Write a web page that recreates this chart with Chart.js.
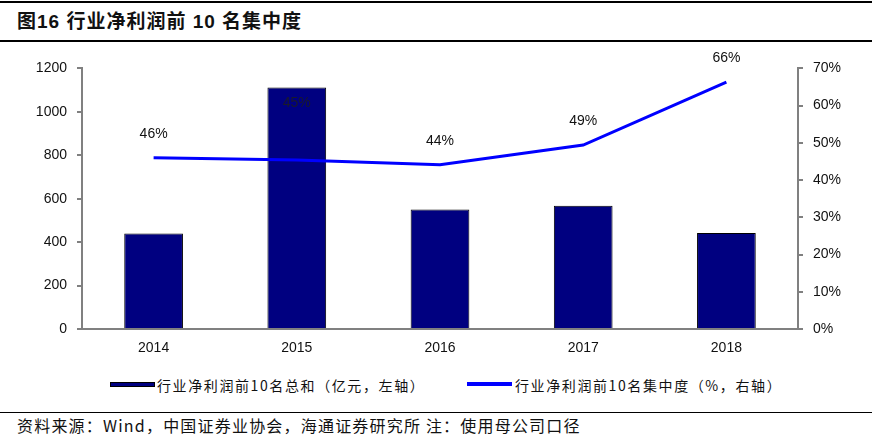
<!DOCTYPE html>
<html lang="zh">
<head>
<meta charset="UTF-8">
<title>图16 行业净利润前10名集中度</title>
<script src="https://cdn.jsdelivr.net/npm/chart.js"></script>
<style>
    body {
        margin: 0;
        width: 872px;
        height: 435px;
        background: #fff;
        position: relative;
        overflow: hidden;
        font-family: 'Liberation Sans', Arial, sans-serif;
    }
    .rule {
        position: absolute;
        left: 0;
        width: 872px;
        height: 2px;
        background: #000;
    }
    .title {
        position: absolute;
        left: 17px;
        top: 9px;
        font-size: 19px;
        line-height: 26px;
        letter-spacing: 1px;
        font-weight: bold;
        font-family: 'Liberation Sans', 'Noto Sans CJK SC', sans-serif;
        color: #111;
    }
    .chart-box {
        position: absolute;
        left: 0;
        top: 50px;
        width: 872px;
        height: 310px;
    }
    .legend-swatch {
        position: absolute;
        width: 45px;
    }
    .legend-text {
        position: absolute;
        top: 375px;
        font-size: 14px;
        line-height: 20px;
        letter-spacing: 1.6px;
        font-family: 'Noto Sans CJK SC', sans-serif;
        color: #111;
        white-space: nowrap;
    }
    .footer {
        position: absolute;
        left: 17px;
        top: 414px;
        font-size: 16px;
        line-height: 22px;
        letter-spacing: 1.2px;
        font-family: 'Noto Sans CJK SC', sans-serif;
        color: #111;
        white-space: nowrap;
    }
</style>
</head>
<body>
    <div class="rule" style="top:1px"></div>
    <div class="title">图16 行业净利润前 10 名集中度</div>
    <div class="rule" style="top:40px"></div>

    <div class="chart-box"><canvas id="c"></canvas></div>

    <div class="legend-swatch" style="left:110px;top:382px;height:5px;background:#000080;border:1px solid #000;box-sizing:border-box;"></div>
    <div class="legend-text" style="left:157px">行业净利润前10名总和（亿元，左轴）</div>
    <div class="legend-swatch" style="left:467px;top:382px;height:4px;background:#0000ff;"></div>
    <div class="legend-text" style="left:515px">行业净利润前10名集中度（%，右轴）</div>

    <div class="rule" style="top:412px;height:1px"></div>
    <div class="footer">资料来源：Wind，中国证券业协会，海通证券研究所 注：使用母公司口径</div>

<script>
    // data
    const years = ['2014', '2015', '2016', '2017', '2018'];
    const profitTop10 = [440, 1112, 550, 568, 442];      // 亿元, left axis
    const concentration = [46, 45.4, 44.1, 49.4, 66.3];  // %, right axis
    const concentrationLabels = ['46%', '45%', '44%', '49%', '66%'];

    // how far above the point each label sits
    const labelLift = [24, 57, 24, 24, 24];

    const pointLabels = {
        id: 'pointLabels',
        afterDatasetsDraw(chart) {
            const ctx = chart.ctx;
            const meta = chart.getDatasetMeta(0);
            ctx.save();
            ctx.font = '14px "Liberation Sans", Arial, sans-serif';
            ctx.textAlign = 'center';
            ctx.textBaseline = 'middle';
            meta.data.forEach((pt, i) => {
                ctx.fillStyle = i === 1 ? '#1a1a2a' : '#111';
                ctx.fillText(concentrationLabels[i], pt.x, pt.y - labelLift[i]);
            });
            ctx.restore();
        }
    };

    const axisGray = '#808080';
    const tickFont = { family: '"Liberation Sans", Arial, sans-serif', size: 14 };

    new Chart(document.getElementById('c'), {
        data: {
            labels: years,
            datasets: [{
                type: 'line',
                label: '行业净利润前10名集中度（%，右轴）',
                data: concentration,
                yAxisID: 'y2',
                borderColor: '#0000ff',
                borderWidth: 3,
                pointRadius: 0,
                tension: 0,
                order: 1
            }, {
                type: 'bar',
                label: '行业净利润前10名总和（亿元，左轴）',
                data: profitTop10,
                yAxisID: 'y',
                backgroundColor: '#000080',
                borderColor: '#000000',
                borderWidth: 1,
                barPercentage: 0.41,
                categoryPercentage: 1,
                order: 2
            }]
        },
        options: {
            responsive: true,
            maintainAspectRatio: false,
            animation: false,
            layout: { padding: { top: 17, left: 0, right: 0, bottom: 0 } },
            plugins: {
                legend: { display: false },
                tooltip: { enabled: false }
            },
            scales: {
                x: {
                    grid: { display: false, drawTicks: false },
                    border: { color: axisGray, width: 2 },
                    ticks: { color: '#111', font: tickFont, padding: 11 },
                    afterFit(s) { s.height = 31; }
                },
                y: {
                    position: 'left',
                    min: 0,
                    max: 1200,
                    ticks: {
                        stepSize: 200,
                        color: '#111',
                        font: tickFont,
                        padding: 10,
                        callback: v => String(v)
                    },
                    grid: { drawOnChartArea: false, color: axisGray, tickLength: 5, lineWidth: 2 },
                    border: { color: axisGray, width: 2 },
                    afterFit(s) { s.width = 82; }
                },
                y2: {
                    position: 'right',
                    min: 0,
                    max: 70,
                    ticks: {
                        stepSize: 10,
                        color: '#111',
                        font: tickFont,
                        padding: 10,
                        callback: v => v + '%'
                    },
                    grid: { drawOnChartArea: false, color: axisGray, tickLength: 5, lineWidth: 2 },
                    border: { color: axisGray, width: 2 },
                    afterFit(s) { s.width = 74; }
                }
            }
        },
        plugins: [pointLabels]
    });
</script>
</body>
</html>
